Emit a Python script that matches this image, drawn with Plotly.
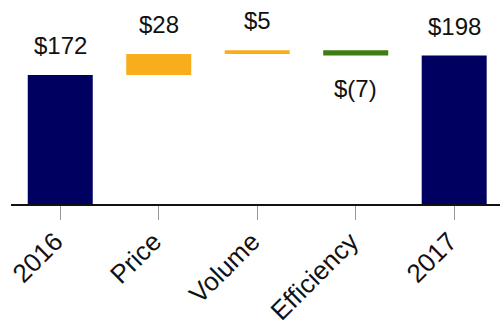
import plotly.graph_objects as go

# Bridge from 2016 to 2017
categories = ["2016", "Price", "Volume", "Efficiency", "2017"]
changes = [172, 28, 5, -7, 198]
measures = ["absolute", "relative", "relative", "relative", "total"]
labels = ["$172", "$28", "$5", "$(7)", "$198"]

NAVY = "#000060"
ORANGE = "#F8AE1C"
GREEN = "#3E7E10"
FONT = "Liberation Sans, Arial, sans-serif"

fig = go.Figure(
    go.Waterfall(
        x=categories,
        y=changes,
        measure=measures,
        width=0.66,
        connector=dict(visible=False),
        increasing=dict(marker=dict(color=ORANGE)),
        decreasing=dict(marker=dict(color=GREEN)),
        totals=dict(marker=dict(color=NAVY)),
        hoverinfo="skip",
    )
)

# value labels placed from the running totals: above rises, below drops
running = 0
for i, (val, meas, lab) in enumerate(zip(changes, measures, labels)):
    if meas in ("absolute", "total"):
        start, end = 0, val
        running = val
    else:
        start, end = running, running + val
        running = end
    if val >= 0:
        fig.add_annotation(x=i, y=max(start, end), text=lab, showarrow=False,
                           yanchor="bottom", yshift=14)
    else:
        fig.add_annotation(x=i, y=min(start, end), text=lab, showarrow=False,
                           yanchor="top", yshift=-17)

fig.update_layout(
    width=500,
    height=322,
    margin=dict(l=11, r=0, t=0, b=118),
    plot_bgcolor="white",
    paper_bgcolor="white",
    showlegend=False,
    font=dict(family=FONT, size=24, color="#111111"),
    xaxis=dict(
        type="category",
        range=[-0.5, 4.465],
        automargin=False,
        showline=True,
        linecolor="#111111",
        linewidth=2,
        ticks="outside",
        ticklen=14,
        tickwidth=1,
        tickcolor="#999999",
        tickangle=-45,
        ticklabelshift=-5,
        ticklabelstandoff=-4,
        tickfont=dict(family=FONT, size=26, color="#111111"),
        showgrid=False,
        zeroline=False,
    ),
    yaxis=dict(
        range=[0, 272],
        automargin=False,
        showticklabels=False,
        showgrid=False,
        zeroline=False,
        showline=False,
        ticks="",
    ),
)

fig.write_html("out.html")
